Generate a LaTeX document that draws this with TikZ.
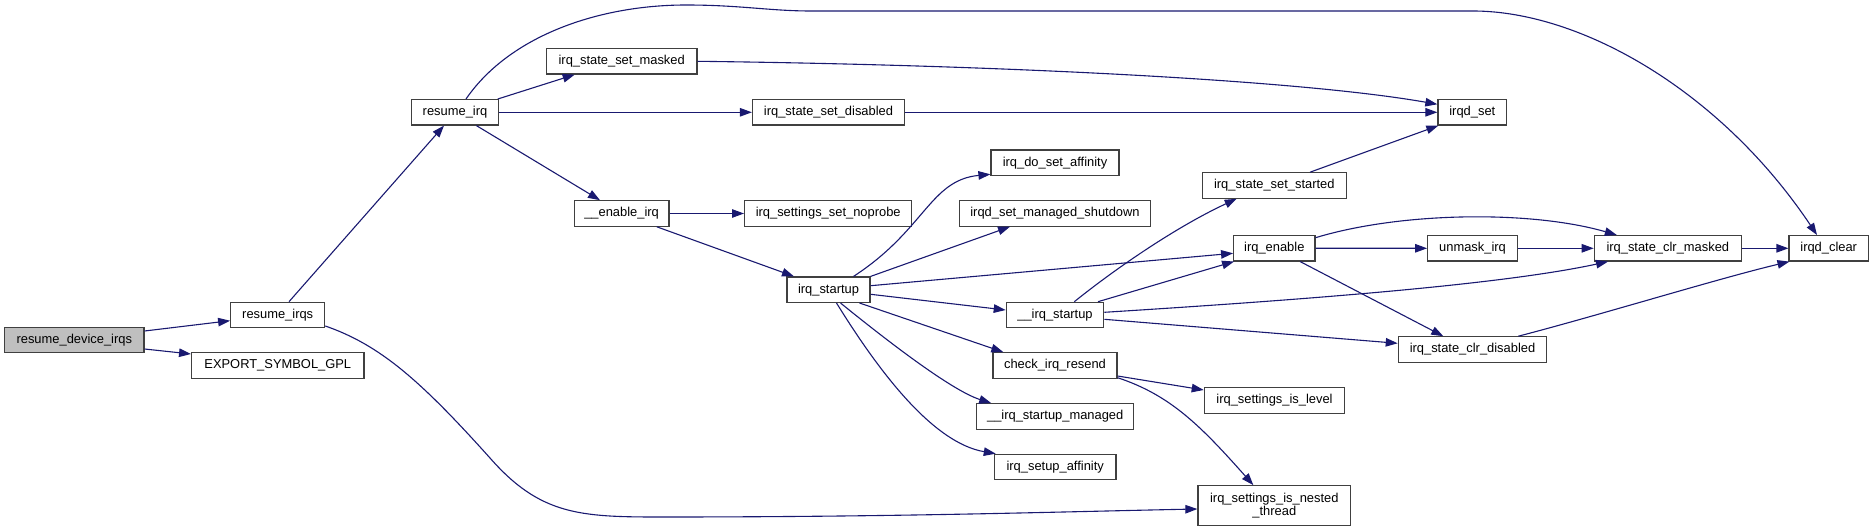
\documentclass[tikz,border=0pt]{standalone}
\usepackage{fontspec}
\setmainfont{Liberation Sans}
\usetikzlibrary{arrows.meta}
\definecolor{navyc}{HTML}{191970}
\definecolor{boxborder}{HTML}{404040}
\definecolor{rootfill}{HTML}{BFBFBF}
\tikzset{
  box/.style={draw=boxborder, fill=white, line width=1.2pt, inner sep=0pt,
    font=\fontsize{12.9}{13.3}\selectfont, align=center, minimum height=25.4pt},
  conn/.style={draw=navyc, line width=1.1pt, -{Triangle[length=12pt,width=8.5pt]}}
}
\begin{document}
\begin{tikzpicture}[x=1pt,y=-1pt]
\useasboundingbox (0,0) rectangle (1873,532);
% nodes
\node[box, fill=rootfill, minimum width=139.3pt] (rdi) at (74.3,340) {resume\_device\_irqs};
\node[box, minimum width=94pt] (rirqs) at (277.7,315) {resume\_irqs};
\node[box, minimum width=172.3pt] (exp) at (277.8,365.5) {EXPORT\_SYMBOL\_GPL};
\node[box, minimum width=86.4pt] (rirq) at (455,112.3) {resume\_irq};
\node[box, minimum width=150.7pt] (ssm) at (621.7,61.3) {irq\_state\_set\_masked};
\node[box, minimum width=152pt] (ssd) at (828.5,112.3) {irq\_state\_set\_disabled};
\node[box, minimum width=68.7pt] (irqdset) at (1472.3,112.3) {irqd\_set};
\node[box, minimum width=94.6pt] (eirq) at (621.6,213.5) {\_\_enable\_irq};
\node[box, minimum width=167.2pt] (noprobe) at (828.2,213.5) {irq\_settings\_set\_noprobe};
\node[box, minimum width=83pt] (startup) at (828.5,289.7) {irq\_startup};
\node[box, minimum width=128pt] (dsa) at (1055,162.7) {irq\_do\_set\_affinity};
\node[box, minimum width=190.6pt] (msd) at (1055,213.4) {irqd\_set\_managed\_shutdown};
\node[box, minimum width=144pt] (sss) at (1274.3,185.5) {irq\_state\_set\_started};
\node[box, minimum width=81.3pt] (ien) at (1274.3,248.2) {irq\_enable};
\node[box, minimum width=97.4pt] (istartup) at (1055,315) {\_\_irq\_startup};
\node[box, minimum width=124pt] (resend) at (1055,365.4) {check\_irq\_resend};
\node[box, minimum width=157pt] (managed) at (1055.2,416.4) {\_\_irq\_startup\_managed};
\node[box, minimum width=121.7pt] (setaff) at (1055.2,467) {irq\_setup\_affinity};
\node[box, minimum width=140.4pt] (islevel) at (1274.5,400.4) {irq\_settings\_is\_level};
\node[box, minimum width=152.7pt, minimum height=40pt] (nested) at (1274.3,505.7) {irq\_settings\_is\_nested\\\_thread};
\node[box, minimum width=89.6pt] (unmask) at (1472.5,248.3) {unmask\_irq};
\node[box, minimum width=147pt] (clrm) at (1667.8,248.3) {irq\_state\_clr\_masked};
\node[box, minimum width=79.3pt] (iclear) at (1828.7,248.3) {irqd\_clear};
\node[box, minimum width=148.4pt] (clrd) at (1472.5,349.5) {irq\_state\_clr\_disabled};
% connectors
\draw[conn] ([yshift=9pt]rdi.east) -- ([yshift=-5.7pt]rirqs.west);
\draw[conn] ([yshift=-9pt]rdi.east) -- ([yshift=11.5pt]exp.west);
\draw[conn] ([xshift=11.3pt]rirqs.north) -- ([xshift=-11pt]rirq.south);
\draw[conn] ([yshift=-11pt]rirqs.east) .. controls (380,345) and (420,380) .. (490,458)
  .. controls (540,515) and (580,517) .. (660,517)
  .. controls (900,517) and (1050,512) .. ([yshift=-3.3pt]nested.west);
\draw[conn] ([xshift=-1pt]rirq.north east) -- ([xshift=-47pt]ssm.south);
\draw[conn] (rirq.east) -- (ssd.west);
\draw[conn] ([xshift=21.4pt]rirq.south) -- ([xshift=-21.6pt]eirq.north);
\draw[conn] ([xshift=11pt]rirq.north) .. controls (510,35) and (600,5) .. (686,5)
  .. controls (740,5) and (770,11) .. (811,11) -- (1473,11)
  .. controls (1580,11) and (1720,90) .. ([xshift=-11.7pt]iclear.north);
\draw[conn] (ssm.east) .. controls (1000,65) and (1300,80) .. ([yshift=8pt]irqdset.west);
\draw[conn] (ssd.east) -- (irqdset.west);
\draw[conn] (eirq.east) -- (noprobe.west);
\draw[conn] ([xshift=35.2pt]eirq.south) -- ([xshift=-34.5pt]startup.north);
\draw[conn] ([xshift=25pt]startup.north) .. controls (925,230) and (930,180) .. ([yshift=-11.6pt]dsa.west);
\draw[conn] (startup.north east) -- ([xshift=-45pt]msd.south);
\draw[conn] ([yshift=4pt]startup.east) -- ([yshift=-5.1pt]ien.west);
\draw[conn] ([yshift=-4.6pt]startup.east) -- ([yshift=5pt]istartup.west);
\draw[conn] ([xshift=31pt]startup.south) -- ([xshift=-51.7pt]resend.north);
\draw[conn] ([xshift=12pt]startup.south) .. controls (880,335) and (950,390) .. ([xshift=-64pt]managed.north);
\draw[conn] ([xshift=8pt]startup.south) .. controls (881,375) and (934,443) .. ([xshift=2pt]setaff.north west);
\draw[conn] ([xshift=19.3pt]istartup.north) .. controls (1120,265) and (1180,225) .. ([xshift=-37.6pt]sss.south);
\draw[conn] ([xshift=43pt]istartup.north) -- ([xshift=1pt]ien.south west);
\draw[conn] ([yshift=2.7pt]istartup.east) .. controls (1300,300) and (1500,285) .. ([xshift=-59.8pt]clrm.south);
\draw[conn] ([yshift=-4.3pt]istartup.east) -- ([yshift=6.2pt]clrd.west);
\draw[conn] ([xshift=35.7pt]sss.north) -- ([xshift=1pt]irqdset.south west);
\draw[conn] ([yshift=10.5pt]ien.east) .. controls (1400,212) and (1530,210) .. ([xshift=-51pt]clrm.north);
\draw[conn] (ien.east) -- (unmask.west);
\draw[conn] ([xshift=25.7pt]ien.south) -- ([xshift=-29.2pt]clrd.north);
\draw[conn] (unmask.east) -- (clrm.west);
\draw[conn] (clrm.east) -- (iclear.west);
\draw[conn] ([xshift=45.8pt]clrd.north) .. controls (1600,315) and (1720,278) .. ([xshift=1pt]iclear.south west);
\draw[conn] ([yshift=-10.6pt]resend.east) -- ([yshift=10.4pt]islevel.west);
\draw[conn] ([yshift=1pt]resend.south east) .. controls (1170,395) and (1200,425) .. ([xshift=-21pt]nested.north);
\end{tikzpicture}
\end{document}
